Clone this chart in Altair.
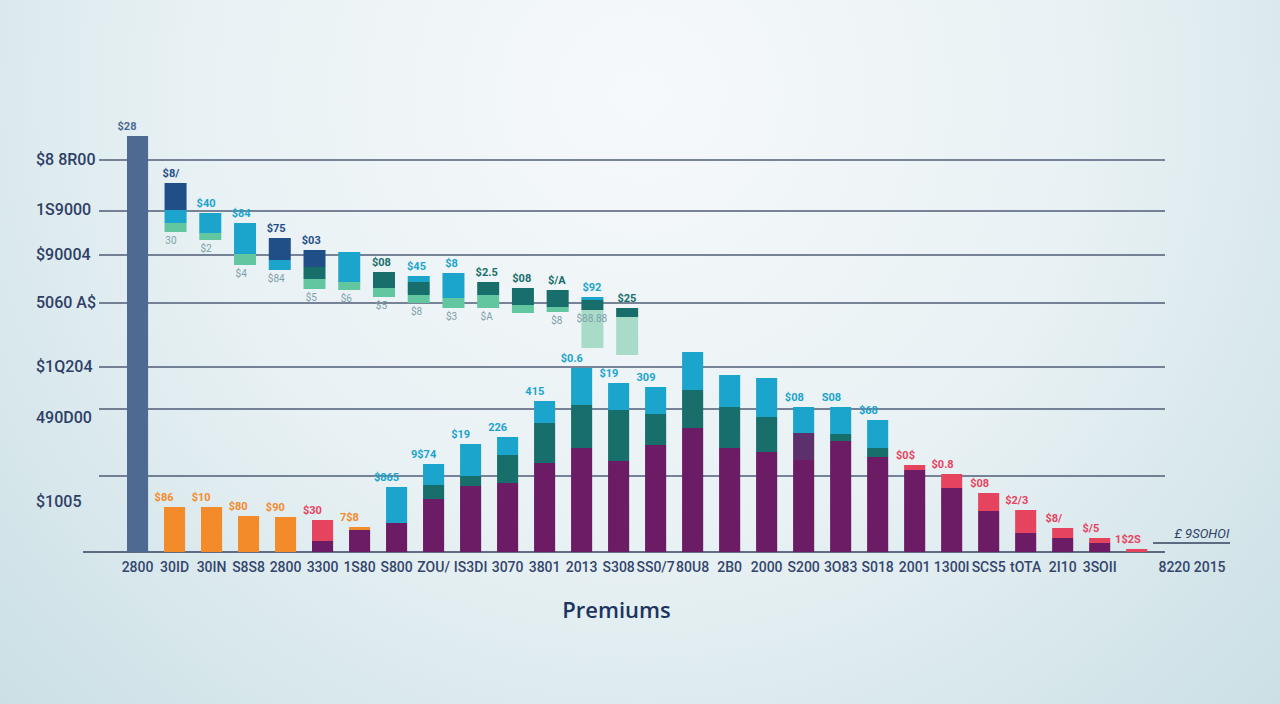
import json
import altair as alt
import pandas as pd

# ---------------- data ----------------
x_labels = ["2800", "30ID", "30IN", "S8S8", "2800", "3300", "1S80", "S800", "ZOU/",
            "IS3DI", "3070", "3801", "2013", "S308", "SS0/7", "80U8", "2B0", "2000",
            "S200", "3O83", "S018", "2001", "1300I", "SCS5", "tOTA", "2I10", "3SOII", ""]

bar_labels = ["$28", "$86", "$10", "$80", "$90", "$30", "7$8", "$865", "9$74", "$19",
              "226", "415", "$0.6", "$19", "309", "", "", "", "$08", "S08", "$68",
              "$0$", "$0.8", "$08", "$2/3", "$8/", "$/5", "1$2S"]

base_v = [8320] + [0] * 27
purple_v = [0, 0, 0, 0, 0, 220, 440, 580, 1060, 1320, 1380, 1780, 2080, 1820, 2140,
            2480, 2080, 2000, 1840, 2220, 1900, 1640, 1280, 820, 380, 280, 180, 0]
plum_v = [0] * 18 + [540] + [0] * 9
teal_v = [0] * 8 + [280, 200, 560, 800, 860, 1020, 620, 760, 820, 700, 0, 140, 180] + [0] * 7
cyan_v = [0] * 7 + [720, 420, 640, 360, 440, 740, 540, 540, 760, 640, 780, 520, 540, 560] + [0] * 7
orange_v = [0, 900, 900, 720, 700, 0, 60] + [0] * 21
red_v = [0] * 5 + [420] + [0] * 15 + [100, 280, 360, 460, 200, 100, 60]

upper_slots = list(range(1, 15))
upper_bounds = [
    [7380, 6840, 6580, 6400],
    [6780, 6380, 6240],
    [6580, 5960, 5740],
    [6280, 5840, 5640],
    [6040, 5700, 5460, 5260],
    [6000, 5400, 5240],
    [5600, 5280, 5100],
    [5520, 5400, 5140, 4980],
    [5580, 5080, 4880],
    [5400, 5140, 4880],
    [5280, 4940, 4780],
    [5240, 4900, 4800],
    [5100, 5040, 4840, 4080],
    [4880, 4700, 3940],
]
upper_series = [
    ["navy", "cyan", "mint"],
    ["cyan", "mint"],
    ["cyan", "mint"],
    ["navy", "cyan"],
    ["navy", "teal", "mint"],
    ["cyan", "mint"],
    ["teal", "mint"],
    ["cyan", "teal", "mint"],
    ["cyan", "mint"],
    ["teal", "mint"],
    ["teal", "mint"],
    ["teal", "mint"],
    ["cyan", "teal", "pale"],
    ["teal", "pale"],
]
upper_labels = ["$8/", "$40", "$84", "$75", "$03", "", "$08", "$45", "$8", "$2.5",
                "$08", "$/A", "$92", "$25"]
upper_sublabels = ["30", "$2", "$4", "$84", "$5", "$6", "$5", "$8", "$3", "$A", "",
                   "$8", "$88.88", ""]

y_label_text = ["$8 8R00", "1S9000", "$90004", "5060 A$", "$1Q204", "490D00", "$1005"]
y_label_vals = [7840, 6840, 5940, 4980, 3700, 2680, 1000]
grid_vals = [7840, 6820, 5940, 4980, 3700, 2860, 1520]

axis_title = "Premiums"
right_note = "£ 9SOHOI"
right_xlabel = "8220 2015"

series_names = ["base", "purple", "plum", "teal", "cyan", "orange", "red", "navy", "mint", "pale"]
series_colors = ["#4e6a92", "#6c1b65", "#5c2f6d", "#176e6b", "#1ba4cc", "#f38b2b",
                 "#e6435f", "#1f4f86", "#62c6a0", "#a8dcc8"]

# ---------------- tables ----------------
stack_parts = [("base", base_v), ("purple", purple_v), ("plum", plum_v), ("teal", teal_v),
               ("cyan", cyan_v), ("orange", orange_v), ("red", red_v)]
rows, lab_rows = [], []
for i in range(len(x_labels)):
    total, top = 0, None
    for k, (name, arr) in enumerate(stack_parts):
        if arr[i] > 0:
            rows.append({"idx": i, "series": name, "value": arr[i], "order": k})
            total += arr[i]
            top = name
    lab_rows.append({"idx": i, "total": total, "series": top, "label": bar_labels[i]})
lower_df = pd.DataFrame(rows)
lower_lab_df = pd.DataFrame(lab_rows)

up_rows, up_lab = [], []
for j, slot in enumerate(upper_slots):
    b = upper_bounds[j]
    ser = upper_series[j]
    for k, s in enumerate(ser):
        up_rows.append({"slot": slot, "series": s, "top": b[k], "bottom": b[k + 1]})
    # sub-label sits under the last solid (non-pale) segment
    sub_at = b[-2] if ser[-1] == "pale" else b[-1]
    up_lab.append({"slot": slot, "top": b[0], "subpos": sub_at, "series": ser[0],
                   "label": upper_labels[j], "sub": upper_sublabels[j]})
upper_df = pd.DataFrame(up_rows)
upper_lab_df = pd.DataFrame(up_lab)

ylab_df = pd.DataFrame({"v": y_label_vals, "t": y_label_text})
grid_df = pd.DataFrame({"v": grid_vals})

W, H = 1038, 450
yscale = alt.Scale(domain=[0, 9000], nice=False)
xband = alt.Scale(domain=list(range(len(x_labels))), paddingInner=0.43, paddingOuter=0.24, align=0)
xslot = alt.Scale(domain=[-0.254, 29.34], nice=False, zero=False)
cscale = alt.Scale(domain=series_names, range=series_colors)

# ---------------- layers ----------------
bg = alt.Chart(pd.DataFrame({"k": [0]})).mark_rect(
    fill=alt.RadialGradient(
        gradient="radial",
        stops=[alt.GradientStop(offset=0, color="#f6f9fb"),
               alt.GradientStop(offset=0.45, color="#e8f1f4"),
               alt.GradientStop(offset=1, color="#c3dbe1")],
        x1=0.5, y1=0.3, r1=0, x2=0.5, y2=0.3, r2=0.78)
).encode(x=alt.value(-127), x2=alt.value(1153), y=alt.value(-102), y2=alt.value(602))

grid = alt.Chart(grid_df).mark_rule(color="#3e4c69", strokeWidth=1.3, opacity=0.9).encode(
    y=alt.Y("v:Q", scale=yscale, axis=None), x=alt.value(-28), x2=alt.value(W))

baseline = alt.Chart(pd.DataFrame({"v": [0]})).mark_rule(color="#34425f", strokeWidth=1.5).encode(
    y=alt.Y("v:Q", scale=yscale, axis=None), x=alt.value(-44), x2=alt.value(W))

ylabels = alt.Chart(ylab_df).mark_text(
    align="left", baseline="middle", fontSize=16, font="Roboto", fontWeight=500, color="#2e3f66"
).encode(y=alt.Y("v:Q", scale=yscale, axis=None), x=alt.value(-91), text="t:N")

upper_bars = alt.Chart(upper_df).mark_bar(size=22).encode(
    x=alt.X("slot:Q", scale=xslot, axis=None),
    y=alt.Y("top:Q", scale=yscale, axis=None),
    y2="bottom:Q",
    color=alt.Color("series:N", scale=cscale, legend=None),
)

upper_text = alt.Chart(upper_lab_df).mark_text(
    baseline="bottom", dy=-4, fontSize=11, fontWeight="bold", font="Roboto"
).encode(
    x=alt.X("slot:Q", scale=xslot, axis=None),
    y=alt.Y("top:Q", scale=yscale, axis=None),
    text="label:N",
    color=alt.Color("series:N", scale=cscale, legend=None),
)

upper_sub = alt.Chart(upper_lab_df).mark_text(
    baseline="top", dy=4, fontSize=10, font="Roboto", color="#7fa0aa"
).encode(
    x=alt.X("slot:Q", scale=xslot, axis=None),
    y=alt.Y("subpos:Q", scale=yscale, axis=None),
    text="sub:N",
)

lower_bars = alt.Chart(lower_df).mark_bar().encode(
    x=alt.X("idx:O", scale=xband, axis=alt.Axis(
        labelExpr=json.dumps(x_labels) + "[datum.value]",
        labelAngle=0, labelFontSize=14, labelFont="Roboto", labelFontWeight=500,
        labelColor="#34466b", labelPadding=8, labelOverlap=False, labelBound=False,
        ticks=False, domain=False, grid=False, zindex=2,
        title=axis_title, titleFont="Open Sans", titleFontSize=22, titleFontWeight=600,
        titleColor="#1d3461", titleX=489, titleY=65, titleBaseline="alphabetic",
        titleAlign="center")),
    y=alt.Y("value:Q", stack="zero", scale=yscale, axis=None),
    color=alt.Color("series:N", scale=cscale, legend=None),
    order=alt.Order("order:Q", sort="ascending"),
)

lower_text = alt.Chart(lower_lab_df).mark_text(
    baseline="bottom", dy=-4, fontSize=11, fontWeight="bold", font="Roboto"
).encode(
    x=alt.X("idx:O", scale=xband, axis=None),
    y=alt.Y("total:Q", scale=yscale, axis=None),
    text="label:N",
    color=alt.Color("series:N", scale=cscale, legend=None),
)

note_df = pd.DataFrame({"t": [right_note]})
note_text = alt.Chart(note_df).mark_text(
    fontSize=13, font="Roboto", fontStyle="italic", color="#2e3f66", baseline="middle"
).encode(x=alt.value(1075), y=alt.value(432), text="t:N")
note_rule = alt.Chart(note_df).mark_rule(color="#34425f", strokeWidth=1.3).encode(
    x=alt.value(1026), x2=alt.value(1103), y=alt.value(441))
xlab_extra = alt.Chart(pd.DataFrame({"t": [right_xlabel]})).mark_text(
    fontSize=14, font="Roboto", fontWeight=500, color="#34466b", baseline="middle"
).encode(x=alt.value(1065), y=alt.value(466), text="t:N")

chart = alt.layer(
    bg, grid, baseline, ylabels, upper_bars, upper_text, upper_sub,
    lower_bars, lower_text, note_rule, note_text, xlab_extra
).resolve_scale(x="independent").properties(
    width=W, height=H,
    autosize=alt.AutoSizeParams(type="none"),
    padding={"left": 127, "top": 102, "right": 115, "bottom": 152},
    background="#dbe9ed",
).configure_view(stroke=None)

chart.save("out.html", embed_options={"renderer": "svg", "actions": False})
